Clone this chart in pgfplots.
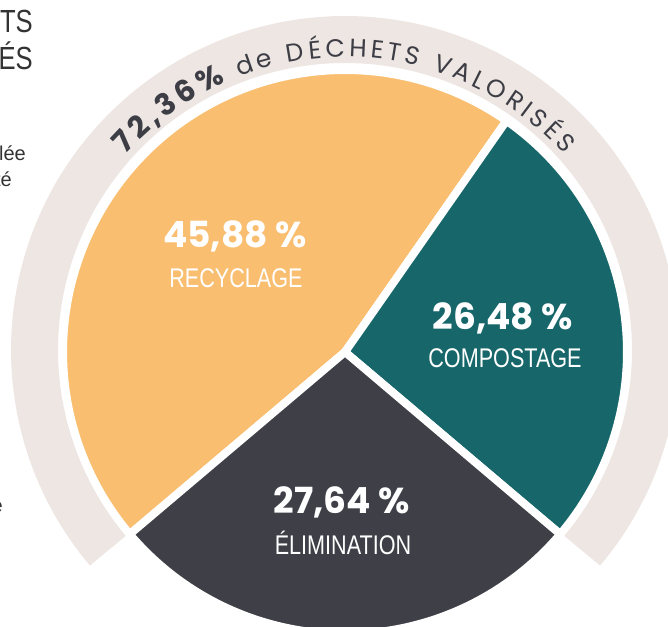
\documentclass[border=0pt]{standalone}
\usepackage{pgfplots}
\pgfplotsset{compat=1.18}
\usepackage{fontspec}
\setmainfont{Liberation Sans}
\newfontfamily\numfont{Poppins}
\newfontfamily\labfont[FakeStretch=0.8]{Liberation Sans}
\newfontfamily\arcfont{Poppins}
\usetikzlibrary{decorations.text}
\definecolor{cOrange}{HTML}{F9BE70}
\definecolor{cTeal}{HTML}{17666A}
\definecolor{cDark}{HTML}{3F3F47}
\definecolor{cBand}{HTML}{EDE6E2}
\definecolor{cText}{HTML}{3D3D45}
\definecolor{cBody}{HTML}{333333}
% shares (percent)
\def\pRec{45.88}
\def\pCom{26.48}
\def\pEli{27.64}
\pgfmathsetmacro\aEliS{270-\pEli*1.8}
\pgfmathsetmacro\aEliE{270+\pEli*1.8}
\pgfmathsetmacro\aComE{\aEliE+\pCom*3.6}
\pgfmathsetmacro\aRecE{\aComE+\pRec*3.6}
\def\cx{345}
\def\cy{274}
\begin{document}
\begin{tikzpicture}
\path[use as bounding box, clip] (0,0) rectangle (668pt,626pt);
\begin{axis}[at={(0,0)}, anchor=south west, scale only axis,
  width=668pt, height=626pt, xmin=0, xmax=668, ymin=0, ymax=626,
  hide axis, clip=false]
% band of valorised waste (recyclage + compostage)
\addplot[draw=cBand, line width=47pt, line cap=butt, domain=\aEliE:\aRecE, samples=200, variable=\t]
  ({\cx+310.5*cos(t)},{\cy+2+310.5*sin(t)});
% wedges
\addplot[fill=cOrange, draw=white, line width=8pt, line join=round, domain=\aComE:\aRecE, samples=150, variable=\t]
  ({\cx+282*cos(t)},{\cy+282*sin(t)}) -- (axis cs:\cx,\cy) -- cycle;
\addplot[fill=cTeal, draw=white, line width=8pt, line join=round, domain=\aEliE:\aComE, samples=100, variable=\t]
  ({\cx+282*cos(t)},{\cy+282*sin(t)}) -- (axis cs:\cx,\cy) -- cycle;
\addplot[fill=cDark, draw=white, line width=8pt, line join=round, domain=\aEliS:\aEliE, samples=100, variable=\t]
  ({\cx+282*cos(t)},{\cy+282*sin(t)}) -- (axis cs:\cx,\cy) -- cycle;
% curved title
\path[decorate, decoration={text along path, text color=cText, text align=fit to path,
  text={|\arcfont\fontsize{30}{30}\selectfont\bfseries|72,36{\%}|\arcfont\fontsize{25}{25}\selectfont\mdseries| de DÉCHETS VALORISÉS}}]
  (axis cs:\cx,\cy) ++(138:295pt) arc[start angle=138, end angle=42, radius=295pt];
% labels
\node[anchor=base, text=white, font=\numfont\bfseries\fontsize{36}{36}\selectfont] at (axis cs:235,378) {45,88 \%};
\node[anchor=base, text=white, font=\labfont\fontsize{27}{27}\selectfont] at (axis cs:236,338) {RECYCLAGE};
\node[anchor=base, text=white, font=\numfont\bfseries\fontsize{36}{36}\selectfont] at (axis cs:503,296) {26,48 \%};
\node[anchor=base, text=white, font=\labfont\fontsize{27}{27}\selectfont] at (axis cs:505,258) {COMPOSTAGE};
\node[anchor=base, text=white, font=\numfont\bfseries\fontsize{36}{36}\selectfont] at (axis cs:342,113) {27,64 \%};
\node[anchor=base, text=white, font=\labfont\fontsize{27}{27}\selectfont] at (axis cs:343,72) {ÉLIMINATION};
% cropped side text
\node[anchor=base east, inner sep=0pt, text=cBody, font=\labfont\fontsize{32}{32}\selectfont] at (axis cs:33,593) {DÉCHETS};
\node[anchor=base east, inner sep=0pt, text=cBody, font=\labfont\fontsize{32}{32}\selectfont] at (axis cs:33,556) {VALORISÉS};
\node[anchor=base east, inner sep=0pt, text=cBody, font=\fontsize{20}{20}\selectfont] at (axis cs:26,465) {recyclée};
\node[anchor=base east, inner sep=0pt, text=cBody, font=\fontsize{20}{20}\selectfont] at (axis cs:12,439) {quantité};
\node[anchor=base east, inner sep=0pt, text=cBody, font=\fontsize{20}{20}\selectfont] at (axis cs:3,114) {source};
\end{axis}
\end{tikzpicture}
\end{document}
